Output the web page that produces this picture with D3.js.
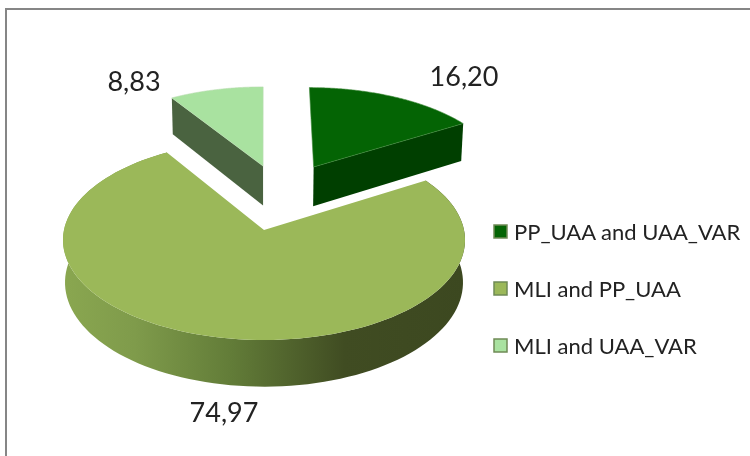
<!DOCTYPE html>
<html>
<head>
<meta charset="utf-8">
<script src="https://cdn.jsdelivr.net/npm/d3@7"></script>
<style>
  html, body { margin: 0; padding: 0; background: #fff; }
  svg { display: block; filter: blur(0.4px); }
  text { font-family: Lato, "Open Sans", sans-serif; fill: #222; }
</style>
</head>
<body>
<div id="chart"></div>
<script>
// values
const categories = ["PP_UAA and UAA_VAR", "MLI and PP_UAA", "MLI and UAA_VAR"];
const values = [16.20, 74.97, 8.83];
const valueLabels = ["16,20", "74,97", "8,83"];
const topColors = ["#046404", "#9bb859", "#a9e2a0"];
const sideColors = ["#003f00", "#5f7a36", "#4a6340"];

const width = 750, height = 456;

const svg = d3.select("#chart")
    .append("svg")
    .attr("width", width)
    .attr("height", height);

// chart frame, runs off the right and bottom of the picture
svg.append("rect")
    .attr("x", 6).attr("y", 9)
    .attr("width", width).attr("height", height)
    .attr("fill", "#fff")
    .attr("stroke", "#868686")
    .attr("stroke-width", 2);

// gradient on the rim of the big slice
const rimGradient = svg.append("defs")
    .append("linearGradient")
    .attr("id", "rimGradient")
    .attr("gradientUnits", "userSpaceOnUse")
    .attr("x1", 62).attr("y1", 0)
    .attr("x2", 466).attr("y2", 0);

[[0, "#8aa750"], [0.18, "#7f9b4b"], [0.42, "#627c38"], [0.7, "#404c22"], [1, "#3c4820"]]
    .forEach(d => rimGradient.append("stop").attr("offset", d[0]).attr("stop-color", d[1]));

// 3d pie: perspective projection of the unit circle plane
const originX = 264, originY = 230, radiusX = 200, radiusY = 99, tilt = 0.1, depth = 42;

function project(u, v, lower) {
    const w = 1 + tilt * v;
    const x = radiusX * u / w;
    const y = -radiusY * v / w + (lower ? depth / w : 0);
    return [originX + x * (lower ? 0.99 : 1), originY + y];
}

// how far each slice is pulled out, in radius units
const explode = [[0.265, 0.68], [0, 0], [-0.005, 0.69]];

const pie = d3.pie().sort(null).value(d => d);
const slices = pie(values);
const line = d3.line();

function rimPoints(d, i, lower) {
    const off = explode[i];
    return d3.range(0, 121).map(k => {
        const a = d.startAngle + (d.endAngle - d.startAngle) * k / 120;
        return project(off[0] + Math.sin(a), off[1] + Math.cos(a), lower);
    });
}

const pieGroup = svg.append("g");

// big slice first: rim, then top
pieGroup.append("path")
    .attr("d", line(rimPoints(slices[1], 1, false).concat(rimPoints(slices[1], 1, true).reverse())) + "Z")
    .attr("fill", "url(#rimGradient)");

pieGroup.append("path")
    .attr("d", line([project(0, 0, false)].concat(rimPoints(slices[1], 1, false))) + "Z")
    .attr("fill", topColors[1]);

// pulled out slices: the one visible cut face, then top
[0, 2].forEach(i => {
    const d = slices[i];
    const off = explode[i];
    const rimTop = rimPoints(d, i, false);
    const rimLow = rimPoints(d, i, true);
    const outerTop = i === 0 ? rimTop[rimTop.length - 1] : rimTop[0];
    const outerLow = i === 0 ? rimLow[rimLow.length - 1] : rimLow[0];
    pieGroup.append("path")
        .attr("d", line([project(off[0], off[1], false), outerTop, outerLow, project(off[0], off[1], true)]) + "Z")
        .attr("fill", sideColors[i]);
    pieGroup.append("path")
        .attr("d", line([project(off[0], off[1], false)].concat(rimTop)) + "Z")
        .attr("fill", topColors[i])
        .attr("stroke", i === 0 ? "#3f8a3a" : "#b9dcb0")
        .attr("stroke-width", 0.6);
});

// value labels
const labelPos = [[464, 86], [224, 422], [134, 91]];
svg.selectAll(".value")
    .data(valueLabels)
    .join("text")
    .attr("class", "value")
    .attr("x", (d, i) => labelPos[i][0])
    .attr("y", (d, i) => labelPos[i][1])
    .attr("text-anchor", "middle")
    .attr("font-size", 27)
    .text(d => d);

// legend
const legendY = d3.scalePoint().domain(categories).range([232, 346]);

const legend = svg.selectAll(".legend")
    .data(categories)
    .join("g")
    .attr("class", "legend")
    .attr("transform", d => `translate(0,${legendY(d)})`);

legend.append("rect")
    .attr("x", 494).attr("y", -7)
    .attr("width", 13).attr("height", 13)
    .attr("fill", (d, i) => topColors[i])
    .attr("stroke", "#6f8a55")
    .attr("stroke-width", 1.5);

legend.append("text")
    .attr("x", 514).attr("y", 8)
    .attr("font-size", 22)
    .text(d => d);
</script>
</body>
</html>
